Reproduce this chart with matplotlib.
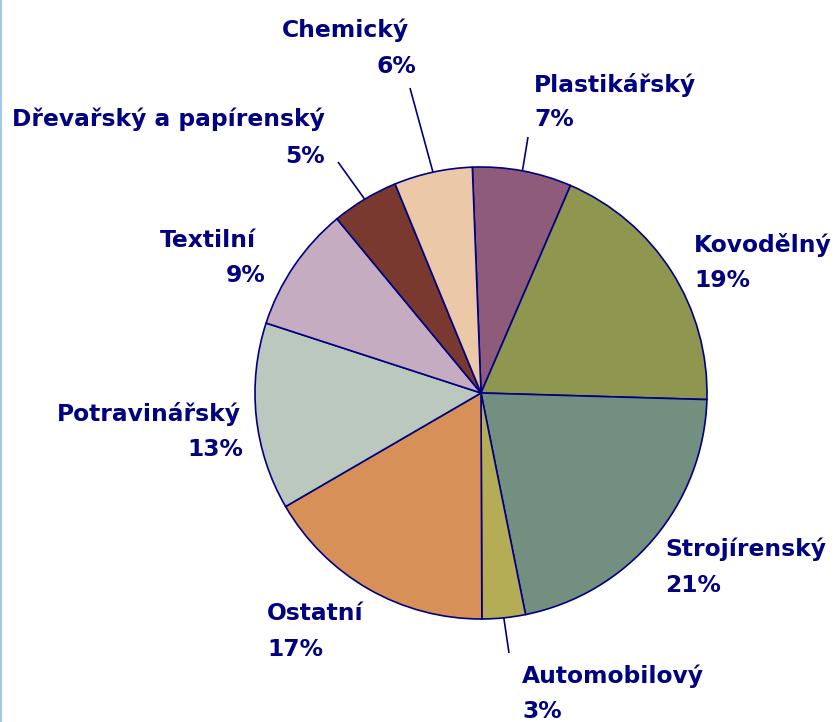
import numpy as np
import matplotlib
matplotlib.use("Agg")
import matplotlib.pyplot as plt
from matplotlib.lines import Line2D

# ---- data ----
categories = ["Plastikářský", "Kovodělný", "Strojírenský", "Automobilový", "Ostatní",
              "Potravinářský", "Textilní", "Dřevařský a papírenský", "Chemický"]
values = [7.1, 19.0, 21.4, 3.1, 16.7, 13.4, 9.0, 4.8, 5.6]
colors = ["#8E5B7A", "#8E9650", "#728F7F", "#B5AD55", "#D69058",
          "#BAC8BE", "#C5ACC0", "#7A392E", "#EAC8A8"]

# ---- layout (pixel positions) ----
W, H = 838, 722
cx, cy, R = 481, 393, 226
# label anchor: (left x of name, baseline of name, left x of pct, baseline of pct)
label_pos = {
    "Plastikářský": (534, 92, 534, 126),
    "Kovodělný": (694, 252, 694, 287),
    "Strojírenský": (665, 556, 665, 592),
    "Automobilový": (522, 683, 522, 718),
    "Ostatní": (267, 620, 267, 656),
    "Potravinářský": (57, 421, 187, 456),
    "Textilní": (160, 247, 226, 282),
    "Dřevařský a papírenský": (12, 126, 285, 163),
    "Chemický": (282, 37, 376, 73),
}
leader_end = {
    "Plastikářský": (528, 137),
    "Automobilový": (509, 653),
    "Dřevařský a papírenský": (338, 162),
    "Chemický": (410, 88),
}

navy = "#000080"
fig = plt.figure(figsize=(W / 100, H / 100), dpi=100)
fig.patch.set_facecolor("white")
ax = fig.add_axes([0, 0, 1, 1])

wedges, _ = ax.pie(values, colors=colors, startangle=92.2, counterclock=False,
                   center=(cx, H - cy), radius=R,
                   wedgeprops=dict(edgecolor=navy, linewidth=1.2))
ax.set_xlim(0, W)
ax.set_ylim(0, H)
ax.axis("off")

total = sum(values)
kw = dict(color=navy, fontsize=16.8, fontweight="bold", family="DejaVu Sans",
          ha="left", va="baseline")
for w, cat, v in zip(wedges, categories, values):
    nx, nb, px, pb = label_pos[cat]
    ax.text(nx, H - nb, cat, **kw)
    ax.text(px, H - pb, f"{round(v / total * 100)}%", **kw)
    if cat in leader_end:
        mid = np.deg2rad((w.theta1 + w.theta2) / 2)
        x0 = cx + R * np.cos(mid)
        y0 = (H - cy) + R * np.sin(mid)
        ex, ey = leader_end[cat]
        ax.plot([x0, ex], [y0, H - ey], color=navy, lw=1.2, solid_capstyle="butt")

fig.add_artist(Line2D([0.8 / W, 0.8 / W], [0, 1], color="#A8C8E8", lw=1.5,
                      transform=fig.transFigure))

fig.savefig("out.png", dpi=100)
